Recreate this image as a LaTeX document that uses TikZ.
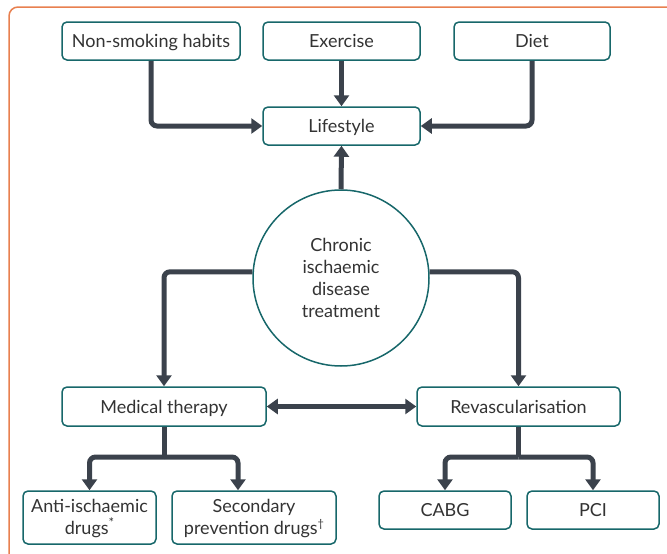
\documentclass[tikz,border=0pt]{standalone}
\usepackage{fontspec}
\setmainfont{Lato}
\usetikzlibrary{arrows.meta,calc}
\definecolor{teal1}{HTML}{17676A}
\definecolor{arrc}{HTML}{3B424C}
\definecolor{txt}{HTML}{333333}
\definecolor{frame}{HTML}{E8804F}
\begin{document}
\begin{tikzpicture}[x=1pt,y=-1pt,
  basebox/.style={draw=teal1,line width=1.5pt,rounded corners=5pt,fill=white,text=txt,
    font=\fontsize{18}{21}\selectfont,align=center,inner sep=0pt},
  box/.style={basebox,text height=13pt,text depth=0pt},
  mbox/.style={basebox,font=\fontsize{18}{22}\selectfont},
  circ/.style={draw=teal1,line width=1.5pt,circle,fill=white,text=txt,
    font=\fontsize{18}{22}\selectfont,align=center,inner sep=0pt,minimum size=176pt},
  conn/.style={draw=arrc,line width=5pt,rounded corners=6pt},
  arr/.style={conn,-{Triangle[width=15pt,length=11pt]}},
  darr/.style={conn,{Triangle[width=15pt,length=11pt]}-{Triangle[width=15pt,length=11pt]}}]
\useasboundingbox (0,0) rectangle (667,554);
\begin{scope}
\clip (0,0) rectangle (667,554);
\draw[frame,line width=1.5pt,rounded corners=9pt] (9,7) rectangle (700,600);
\end{scope}
\node[box,minimum width=178pt,minimum height=38pt] (ns) at (151,41) {Non-smoking habits};
\node[box,minimum width=157pt,minimum height=38pt] (ex) at (341.5,41) {Exercise};
\node[box,minimum width=156pt,minimum height=38pt] (diet) at (532,41) {Diet};
\node[box,minimum width=157pt,minimum height=38pt] (life) at (341.5,126) {Lifestyle};
\node[circ] (c) at (341,278) {\rule{0pt}{14pt}Chronic\\ischaemic\\disease\\treatment};
\node[box,minimum width=204pt,minimum height=39pt] (med) at (164,406.5) {Medical therapy};
\node[box,minimum width=203pt,minimum height=39pt] (rev) at (518.5,406.5) {Revascularisation};
\node[mbox,minimum width=133pt,minimum height=53pt] (anti) at (89.5,517.5) {\rule{0pt}{15pt}Anti-ischaemic\\drugs\raisebox{0.8ex}{\fontsize{13}{13}\selectfont *}};
\node[mbox,minimum width=164pt,minimum height=53pt] (sec) at (254,517.5) {\rule{0pt}{15pt}Secondary\\prevention drugs\raisebox{0.7ex}{\fontsize{11}{11}\selectfont †}};
\node[box,minimum width=132pt,minimum height=38pt] (cabg) at (445,510) {CABG};
\node[box,minimum width=132pt,minimum height=38pt] (pci) at (593,510) {PCI};
\coordinate (mj) at (164,457);
\coordinate (rj) at (518.5,457);
\draw[arr] (ns.south) |- (life.west);
\draw[arr] (diet.south) |- (life.east);
\draw[arr] (ex.south) -- (life.north);
\draw[arr] (c.north) -- (life.south);
\draw[arr] (c.176) -| (med.north);
\draw[arr] (c.4) -| (rev.north);
\draw[darr] (med.east) -- (rev.west);
\draw[conn] (med.south) -- (mj);
\draw[conn] (rev.south) -- (rj);
\draw[arr] (mj) -| (anti.north);
\draw[arr] (mj) -| ([xshift=-16pt]sec.north);
\draw[arr] (rj) -| (cabg.north);
\draw[arr] (rj) -| (pci.north);
\end{tikzpicture}
\end{document}
